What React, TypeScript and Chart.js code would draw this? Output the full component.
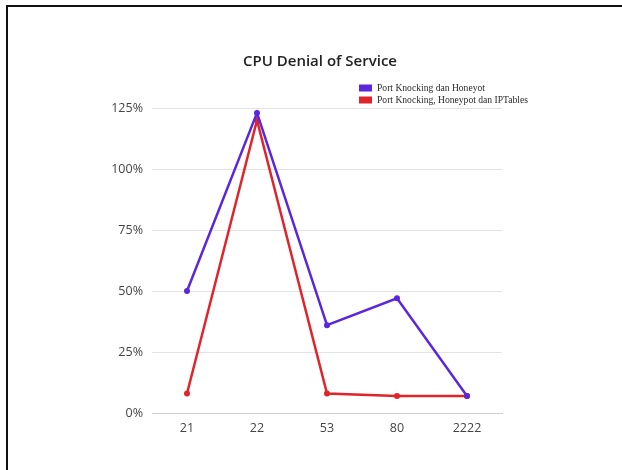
import React, { useEffect, useRef } from "react";
import { Chart, registerables } from "chart.js";

Chart.register(...registerables);

const ports = ["21", "22", "53", "80", "2222"];
const withoutIptables = [50, 123, 36, 47, 7];
const withIptables = [8, 120, 8, 7, 7];
const yTicks = [0, 25, 50, 75, 100, 125];
const titleText = "CPU Denial of Service";
const seriesNames = ["Port Knocking dan Honeyot", "Port Knocking, Honeypot dan IPTables"];
const seriesColors = ["#5a28dc", "#e0242a"];

// Draws the title and the stacked legend block above the plot.
const headerPlugin = {
  id: "header",
  afterDraw(chart: Chart) {
    const ctx = chart.ctx;
    ctx.save();
    ctx.fillStyle = "#222";
    ctx.font = "600 15px 'Open Sans'";
    ctx.textAlign = "center";
    ctx.textBaseline = "middle";
    ctx.fillText(titleText, 320, 62);

    ctx.font = "9.6px 'Liberation Serif'";
    ctx.textAlign = "left";
    seriesNames.forEach((name, i) => {
      const y = 88 + i * 12;
      ctx.fillStyle = seriesColors[i];
      ctx.fillRect(359, y - 3.5, 13, 7);
      ctx.fillStyle = "#2a2a2a";
      ctx.fillText(name, 377, y);
    });
    ctx.restore();
  },
};

export default function App() {
  const ref = useRef<HTMLCanvasElement>(null);

  useEffect(() => {
    if (!ref.current) return;
    const chart = new Chart(ref.current, {
      type: "line",
      data: {
        labels: ports,
        datasets: [
          {
            label: seriesNames[0],
            data: withoutIptables,
            borderColor: seriesColors[0],
            backgroundColor: seriesColors[0],
            borderWidth: 2.5,
            pointRadius: 3,
            pointBorderWidth: 0,
            tension: 0,
          },
          {
            label: seriesNames[1],
            data: withIptables,
            borderColor: seriesColors[1],
            backgroundColor: seriesColors[1],
            borderWidth: 2.5,
            pointRadius: 3,
            pointBorderWidth: 0,
            tension: 0,
          },
        ],
      },
      options: {
        responsive: false,
        animation: false,
        layout: { padding: { left: 100, right: 120, top: 108, bottom: 27 } },
        plugins: {
          legend: { display: false },
          title: { display: false },
          tooltip: { enabled: false },
        },
        scales: {
          x: {
            offset: true,
            grid: { display: false, drawTicks: false },
            border: { display: true, color: "#cfcfcf", width: 1 },
            ticks: {
              padding: 8,
              color: "#444",
              font: { family: "'Open Sans'", size: 12.5 },
            },
            afterFit(scale: any) {
              scale.height = 30;
            },
          },
          y: {
            min: yTicks[0],
            max: yTicks[yTicks.length - 1],
            afterBuildTicks(scale: any) {
              scale.ticks = yTicks.map((v) => ({ value: v }));
            },
            grid: { color: "#e3e3e3", drawTicks: false },
            border: { display: false },
            ticks: {
              padding: 9,
              color: "#444",
              font: { family: "'Open Sans'", size: 12.5 },
              callback: (v: any) => v + "%",
            },
            afterFit(scale: any) {
              scale.width = 52;
            },
          },
        },
      },
      plugins: [headerPlugin],
    });
    return () => chart.destroy();
  }, []);

  return (
    <div style={{ position: "fixed", left: 0, top: 0, width: 622, height: 470, background: "#fff" }}>
      <div
        style={{
          position: "absolute",
          left: 6,
          top: 5,
          right: 0,
          bottom: 0,
          borderTop: "2px solid #111",
          borderLeft: "2px solid #111",
        }}
      />
      <canvas ref={ref} width={622} height={470} style={{ position: "absolute", left: 0, top: 0 }} />
    </div>
  );
}
